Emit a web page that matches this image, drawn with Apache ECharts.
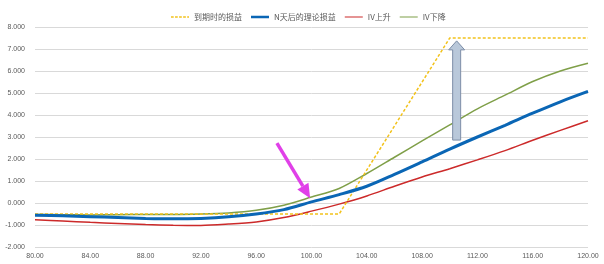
<!DOCTYPE html>
<html>
<head>
<meta charset="utf-8">
<script src="https://cdn.jsdelivr.net/npm/echarts@6/dist/echarts.min.js"></script>
<style>
html,body{margin:0;padding:0;background:#fff;}
#c{width:604px;height:264px;}
</style>
</head>
<body>
<div id="c"></div>
<script>
var seriesNames = ['到期时的损益', 'N天后的理论损益', 'IV上升', 'IV下降'];
var prices = [80, 82, 84, 86, 88, 90, 92, 94, 96, 98, 100, 102, 104, 106, 108, 110, 112, 114, 116, 118, 120];
var expiryX = [80, 102, 110, 120];
var expiryPnl = [-0.5, -0.5, 7.5, 7.5];
var nDaysPnl = [-0.56, -0.58, -0.62, -0.66, -0.70, -0.72, -0.70, -0.63, -0.50, -0.30, 0.05, 0.38, 0.76, 1.30, 1.87, 2.45, 3.00, 3.53, 4.08, 4.60, 5.07];
var ivUpPnl = [-0.76, -0.82, -0.88, -0.93, -0.98, -1.01, -1.02, -0.96, -0.86, -0.66, -0.37, -0.05, 0.32, 0.76, 1.18, 1.56, 1.96, 2.38, 2.85, 3.30, 3.74];
var ivDownPnl = [-0.52, -0.53, -0.54, -0.53, -0.52, -0.52, -0.50, -0.45, -0.33, -0.10, 0.27, 0.66, 1.34, 2.08, 2.82, 3.55, 4.28, 4.90, 5.52, 6.00, 6.35];
var xTicks = [80, 84, 88, 92, 96, 100, 104, 108, 112, 116, 120];
var yTicks = [-2, -1, 0, 1, 2, 3, 4, 5, 6, 7, 8];
// annotation anchors (data coordinates)
var pinkArrow = {from: [97.5, 2.72], to: [99.9, 0.22]};
var greyArrow = {x: 110.5, bottom: 2.86, top: 7.37};

function pairs(xs, ys) { return xs.map(function (x, i) { return [x, ys[i]]; }); }

var thinIcon = 'path://M0,0h20v0.01h-20zM0,1.4h20v1.2h-20zM0,3.99h20v0.01h-20z';
var thickIcon = 'path://M0,0h20v0.01h-20zM0,0.6h20v2.8h-20zM0,3.99h20v0.01h-20z';
var dashIcon = 'path://M0,0h20v0.01h-20zM0,1.3h3v1.4h-3zM4.5,1.3h3v1.4h-3zM9,1.3h3v1.4h-3zM13.5,1.3h3v1.4h-3zM18,1.3h2v1.4h-2zM0,3.99h20v0.01h-20z';

var chart = echarts.init(document.getElementById('c'));
var axisLabelStyle = {color: '#595959', fontSize: 7, fontFamily: 'Liberation Sans, Arial, sans-serif'};
chart.setOption({
  animation: false,
  backgroundColor: '#ffffff',
  grid: {left: 35, right: 16, top: 27, bottom: 17},
  legend: {
    left: 166, top: 8, itemWidth: 18, itemHeight: 4, itemGap: 9,
    textStyle: {color: '#595959', fontSize: 8, fontFamily: 'Noto Sans CJK SC, sans-serif'},
    data: [
      {name: seriesNames[0], icon: dashIcon},
      {name: seriesNames[1], icon: thickIcon},
      {name: seriesNames[2], icon: thinIcon},
      {name: seriesNames[3], icon: thinIcon}
    ]
  },
  xAxis: {
    type: 'value', min: xTicks[0], max: xTicks[xTicks.length - 1], interval: 4,
    axisLine: {show: false}, axisTick: {show: false}, splitLine: {show: false},
    axisLabel: Object.assign({formatter: function (v) { return v.toFixed(2); }, margin: 6}, axisLabelStyle)
  },
  yAxis: {
    type: 'value', min: yTicks[0], max: yTicks[yTicks.length - 1], interval: 1,
    axisLine: {show: false}, axisTick: {show: false},
    splitLine: {lineStyle: {color: '#d9d9d9', width: 1}},
    axisLabel: Object.assign({formatter: function (v) { return v.toFixed(3); }, margin: 10}, axisLabelStyle)
  },
  series: [
    {name: seriesNames[0], type: 'line', symbol: 'none', data: pairs(expiryX, expiryPnl),
     lineStyle: {color: '#f2c21b', width: 1.5, type: [3, 2]}, itemStyle: {color: '#f2c21b'}, z: 4},
    {name: seriesNames[1], type: 'line', symbol: 'none', smooth: 0.3, data: pairs(prices, nDaysPnl),
     lineStyle: {color: '#0a66b5', width: 3}, itemStyle: {color: '#0a66b5'}, z: 5},
    {name: seriesNames[2], type: 'line', symbol: 'none', smooth: 0.3, data: pairs(prices, ivUpPnl),
     lineStyle: {color: '#cc2a2a', width: 1.5}, itemStyle: {color: '#cc2a2a'}, z: 3},
    {name: seriesNames[3], type: 'line', symbol: 'none', smooth: 0.3, data: pairs(prices, ivDownPnl),
     lineStyle: {color: '#7f9f48', width: 1.5}, itemStyle: {color: '#7f9f48'}, z: 3}
  ]
});

// annotations placed from data coordinates
var a = chart.convertToPixel({gridIndex: 0}, pinkArrow.from);
var b = chart.convertToPixel({gridIndex: 0}, pinkArrow.to);
var dx = b[0] - a[0], dy = b[1] - a[1], L = Math.sqrt(dx * dx + dy * dy);
var ux = dx / L, uy = dy / L, px = -uy, py = ux;
var headLen = 14, headW = 6.5;
var hb = [b[0] - ux * headLen, b[1] - uy * headLen];

var gb = chart.convertToPixel({gridIndex: 0}, [greyArrow.x, greyArrow.bottom]);
var gt = chart.convertToPixel({gridIndex: 0}, [greyArrow.x, greyArrow.top]);
var sw = 4, hw = 8, hh = 9;
var gx = gb[0];

chart.setOption({
  graphic: [
    {type: 'line', shape: {x1: a[0], y1: a[1], x2: hb[0], y2: hb[1]},
     style: {stroke: '#e040e8', lineWidth: 3.5}, z: 100},
    {type: 'polygon', shape: {points: [[b[0], b[1]], [hb[0] + px * headW, hb[1] + py * headW], [hb[0] - px * headW, hb[1] - py * headW]]},
     style: {fill: '#e040e8'}, z: 100},
    {type: 'polygon', shape: {points: [
      [gx - sw, gb[1]], [gx - sw, gt[1] + hh], [gx - hw, gt[1] + hh], [gx, gt[1]],
      [gx + hw, gt[1] + hh], [gx + sw, gt[1] + hh], [gx + sw, gb[1]]]},
     style: {fill: '#b9c8da', stroke: '#7d8ea8', lineWidth: 1}, z: 100}
  ]
});
</script>
</body>
</html>
